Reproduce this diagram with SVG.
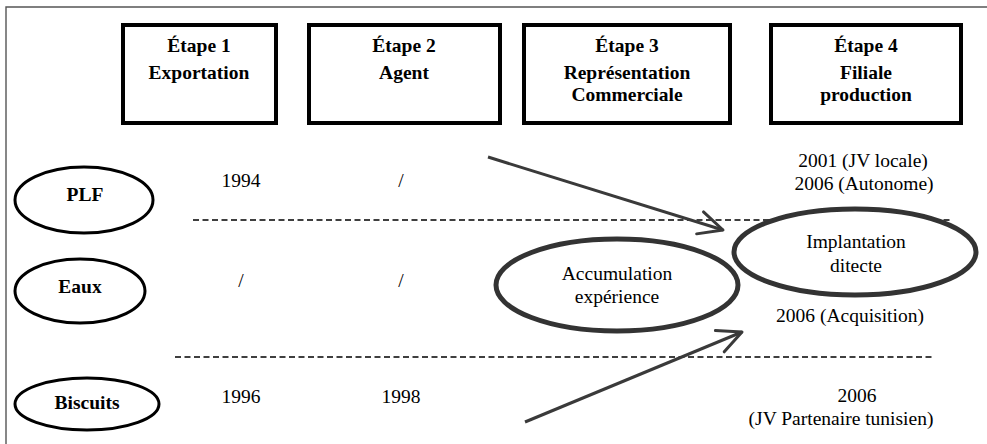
<svg xmlns="http://www.w3.org/2000/svg" width="987" height="444" viewBox="0 0 987 444">
  <style>
    .frame { fill: none; stroke: #555; stroke-width: 1.4; }
    .stage rect { fill: #fff; stroke: #000; stroke-width: 4; }
    text { font-family: 'Liberation Serif', Tinos, 'Times New Roman', 'DejaVu Serif', serif; font-size: 19.5px; fill: #000; text-anchor: middle; }
    .head { font-weight: bold; }
    .row ellipse { fill: #fff; stroke: #000; stroke-width: 3; }
    .big ellipse { fill: #fff; stroke: #333; stroke-width: 5; }
    .dash { stroke: #000; stroke-width: 1.3; stroke-dasharray: 6 3.5; fill: none; }
    .arrow { stroke: #3a3a3a; stroke-width: 3; fill: none; marker-end: url(#openHead); }
  </style>
  <defs>
    <marker id="openHead" markerUnits="userSpaceOnUse" viewBox="-28 -14 32 28" refX="0" refY="0" markerWidth="32" markerHeight="28" orient="auto" overflow="visible">
      <path d="M-24,-11.5 L0,0 L-24,11.5" fill="none" stroke="#3a3a3a" stroke-width="3" stroke-linecap="round" stroke-linejoin="round"/>
    </marker>
  </defs>

  <rect width="987" height="444" fill="#fff"/>
  <!-- outer frame (top and left edges) -->
  <path class="frame" d="M987,7 H6 V444"/>

  <!-- stage headers -->
  <g id="etape1" class="stage">
    <rect x="123" y="25" width="153" height="98"/>
    <text class="head" x="199" y="52">Étape 1</text>
    <text class="head" x="199" y="79">Exportation</text>
  </g>
  <g id="etape2" class="stage">
    <rect x="309" y="25" width="191" height="98"/>
    <text class="head" x="404" y="52">Étape 2</text>
    <text class="head" x="404" y="79">Agent</text>
  </g>
  <g id="etape3" class="stage">
    <rect x="524" y="25" width="206" height="98"/>
    <text class="head" x="627" y="52">Étape 3</text>
    <text class="head" x="627" y="79">Représentation</text>
    <text class="head" x="627" y="101">Commerciale</text>
  </g>
  <g id="etape4" class="stage">
    <rect x="771" y="25" width="190" height="98"/>
    <text class="head" x="866" y="52">Étape 4</text>
    <text class="head" x="866" y="79">Filiale</text>
    <text class="head" x="866" y="101">production</text>
  </g>

  <!-- product rows -->
  <g id="plf" class="row">
    <ellipse cx="84" cy="200" rx="69" ry="33"/>
    <text class="head" x="85" y="201">PLF</text>
  </g>
  <g id="eaux" class="row">
    <ellipse cx="80" cy="291" rx="65" ry="32"/>
    <text class="head" x="80" y="293">Eaux</text>
  </g>
  <g id="biscuits" class="row">
    <ellipse cx="87" cy="404" rx="72" ry="26"/>
    <text class="head" x="87" y="409">Biscuits</text>
  </g>

  <!-- dates per stage -->
  <g id="dates">
    <text x="241" y="187">1994</text>
    <text x="401" y="187">/</text>
    <text x="241" y="287">/</text>
    <text x="401" y="287">/</text>
    <text x="241" y="403">1996</text>
    <text x="401" y="403">1998</text>
    <text x="863" y="167">2001 (JV locale)</text>
    <text x="864" y="190">2006 (Autonome)</text>
    <text x="850" y="322">2006 (Acquisition)</text>
    <text x="857" y="402">2006</text>
    <text x="841" y="425">(JV Partenaire tunisien)</text>
  </g>

  <!-- row separators -->
  <g id="separators">
    <line class="dash" x1="193" y1="220" x2="953" y2="220"/>
    <line class="dash" x1="175" y1="357" x2="935" y2="357"/>
  </g>

  <g id="accumulation" class="big">
    <ellipse cx="617" cy="285" rx="121" ry="46"/>
    <text x="617" y="280">Accumulation</text>
    <text x="617" y="303">expérience</text>
  </g>
  <g id="implantation" class="big">
    <ellipse cx="855" cy="252" rx="121" ry="43"/>
    <text x="856" y="248">Implantation</text>
    <text x="856" y="272">ditecte</text>
  </g>

  <!-- connectors -->
  <g id="connectors">
    <path class="arrow" d="M488,157 L723,230"/>
    <path class="arrow" d="M525,422 L742,332"/>
  </g>
</svg>
